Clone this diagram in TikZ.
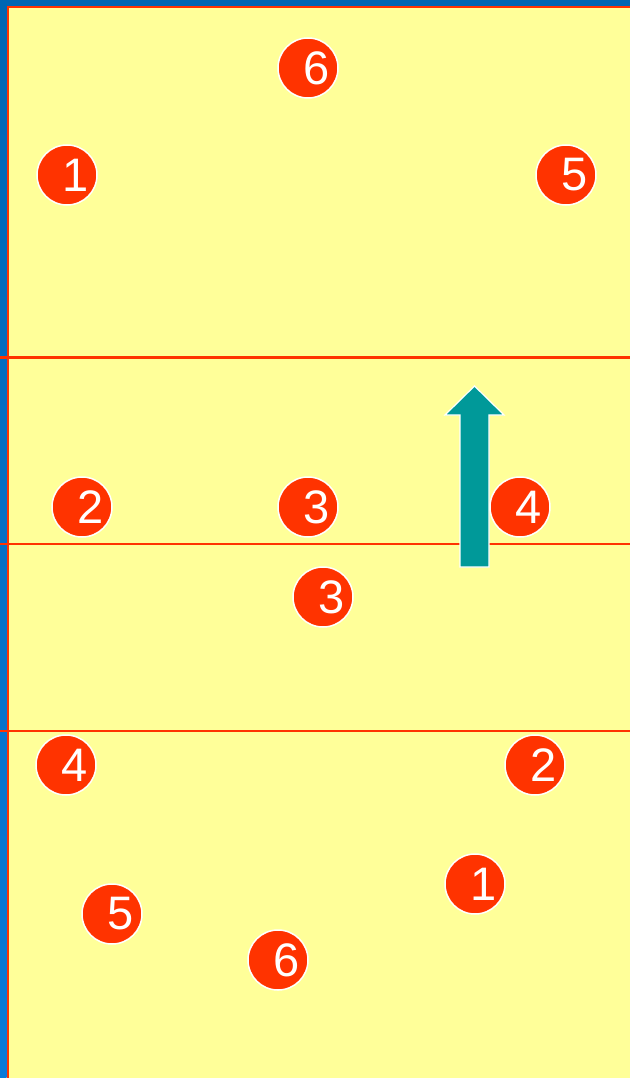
\documentclass[tikz,border=0pt]{standalone}
\usepackage{fontspec}
\setmainfont{Liberation Sans}
\definecolor{court}{HTML}{FFFF99}
\definecolor{frameblue}{HTML}{0066B3}
\definecolor{framebluelow}{HTML}{0A7AD8}
\definecolor{courtred}{HTML}{FF3300}
\definecolor{arrowteal}{HTML}{009999}
\tikzset{
  player/.style={circle,fill=courtred,draw=white,line width=1.5pt,
    minimum size=60pt,inner sep=0pt,text=white,
    font=\fontsize{47}{47}\selectfont},
  courtline/.style={draw=courtred,line width=2.5pt}
}

\begin{document}
\begin{tikzpicture}
  [x=1pt,y=-1pt]
  \useasboundingbox (0,0) rectangle (630,1078);
  \fill[court] (0,0) rectangle (630,1078);
  % frame at the top and the left
  \shade[top color=frameblue,bottom color=framebluelow] (0,0) rectangle (6.5,1078);
  \fill[frameblue] (0,0) rectangle (630,6.5);
  \fill[courtred] (6.5,6.5) rectangle (8.5,1078);
  \fill[courtred] (6.5,6.5) rectangle (630,8.5);

  \foreach \y in {357.5,544,731}
    \draw[courtline] (0,\y) -- (630,\y);

  % move arrow
  \draw[fill=arrowteal,draw=white,line width=1.2pt]
    (460,567) -- (460,415) -- (445,415) -- (474.5,386)
    -- (504,415) -- (489,415) -- (489,567) -- cycle;

  \foreach \name/\x/\y/\num in {t6/308/68/6,t1/67/175/1,t5/566/175/5,
      t2/82/507/2,t3/308/507/3,t4/520/507/4,
      b3/323/597/3,b4/66/765/4,b2/535/765/2,
      b1/475/884/1,b5/112/914/5,b6/278/960/6}
    \node[player] (\name) at (\x,\y) {\hspace*{18pt}\num};
\end{tikzpicture}
\end{document}
